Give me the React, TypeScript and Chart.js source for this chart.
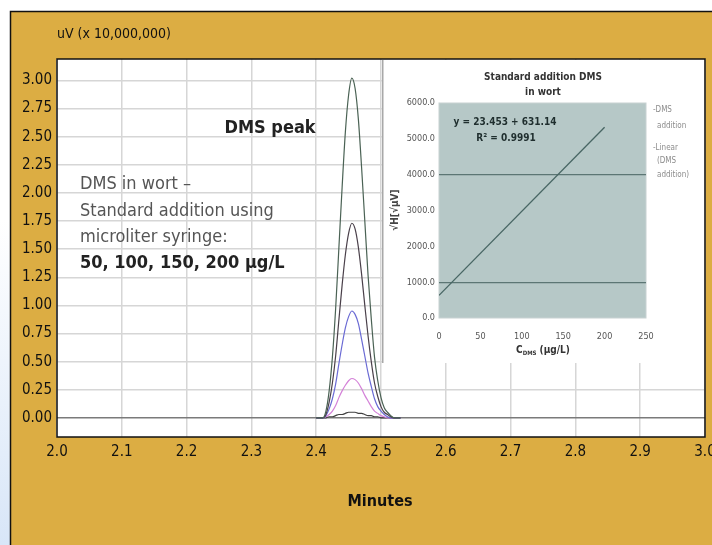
import React, { useEffect, useRef } from "react";
import { Chart, registerables } from "chart.js";

Chart.register(...registerables);

const FONT = '"Liberation Sans Narrow", "DejaVu Sans Condensed", "Arial Narrow", sans-serif';

// ---------- main chromatogram data ----------
const TIMES = [2.40, 2.41, 2.415, 2.42, 2.425, 2.43, 2.435, 2.44, 2.445, 2.45, 2.455, 2.46, 2.465, 2.47, 2.475, 2.48, 2.485, 2.49, 2.495, 2.50, 2.505, 2.51, 2.515, 2.52, 2.53];
const PEAK_200 = [0, 0, 0.06, 0.24, 0.54, 0.97, 1.51, 2.05, 2.54, 2.87, 3.02, 2.93, 2.66, 2.23, 1.75, 1.27, 0.88, 0.54, 0.33, 0.18, 0.09, 0.05, 0.02, 0, 0];
const PEAK_150 = [0, 0, 0.03, 0.14, 0.31, 0.55, 0.87, 1.18, 1.45, 1.64, 1.73, 1.68, 1.52, 1.28, 1.00, 0.73, 0.50, 0.31, 0.19, 0.10, 0.05, 0.03, 0.01, 0, 0];
const PEAK_100 = [0, 0, 0.02, 0.08, 0.17, 0.30, 0.48, 0.65, 0.80, 0.90, 0.95, 0.92, 0.84, 0.70, 0.55, 0.40, 0.28, 0.17, 0.10, 0.06, 0.03, 0.01, 0, 0, 0];
const PEAK_50 = [0, 0, 0.01, 0.03, 0.06, 0.11, 0.18, 0.24, 0.29, 0.33, 0.35, 0.34, 0.31, 0.26, 0.20, 0.15, 0.10, 0.06, 0.04, 0.02, 0.01, 0, 0, 0, 0];
const PEAK_0 = [0, 0, 0, 0.01, 0.01, 0.02, 0.03, 0.03, 0.04, 0.05, 0.05, 0.05, 0.04, 0.04, 0.03, 0.02, 0.02, 0.01, 0.01, 0, 0, 0, 0, 0, 0];
const SERIES = [PEAK_200, PEAK_150, PEAK_100, PEAK_50, PEAK_0];
const SERIES_COLORS = ["#4a6254", "#4a404a", "#6a6ad4", "#d482d8", "#404040"];
const Y_TICKS = [0, 0.25, 0.5, 0.75, 1.0, 1.25, 1.5, 1.75, 2.0, 2.25, 2.5, 2.75, 3.0];
const X_MIN = 2.0, X_MAX = 3.0, X_STEP = 0.1;
const Y_MIN = -0.17, Y_MAX = 3.19;

// ---------- inset calibration data ----------
const FIT_X = [0, 200];
const FIT_Y = [631.1, 5321.7];
const INSET_GRID = [1000, 4000];
const INSET_X_MIN = 0, INSET_X_MAX = 250, INSET_X_STEP = 50;
const INSET_Y_MIN = 0, INSET_Y_MAX = 6000, INSET_Y_STEP = 1000;

const GOLD = "#dcad43";

const mainBg = {
  id: "mainBg",
  beforeDraw(chart: any) {
    const { ctx, width, height, chartArea: a } = chart;
    ctx.save();
    ctx.fillStyle = "#ffffff";
    ctx.fillRect(0, 0, width, height);
    const g = ctx.createLinearGradient(0, 220, 0, height);
    g.addColorStop(0, "#ffffff");
    g.addColorStop(1, "#d8e6f8");
    ctx.fillStyle = g;
    ctx.fillRect(0, 0, 10, height);
    ctx.fillStyle = GOLD;
    ctx.fillRect(10, 11, width, height);
    ctx.strokeStyle = "#111";
    ctx.lineWidth = 1.5;
    ctx.strokeRect(10.5, 11.5, width + 10, height + 10);
    ctx.fillStyle = "#ffffff";
    ctx.fillRect(a.left, a.top, a.right - a.left, a.bottom - a.top);
    ctx.restore();
  },
  afterDraw(chart: any) {
    const { ctx, chartArea: a } = chart;
    ctx.save();
    ctx.strokeStyle = "#111";
    ctx.lineWidth = 1.5;
    ctx.strokeRect(a.left, a.top, a.right - a.left, a.bottom - a.top);
    ctx.textBaseline = "middle";
    ctx.textAlign = "left";
    ctx.fillStyle = "#111";
    ctx.font = `14px ${FONT}`;
    ctx.fillText("uV (x 10,000,000)", 57, 34);
    ctx.textAlign = "center";
    ctx.font = `bold 16px ${FONT}`;
    ctx.fillText("Minutes", 380, 502);
    ctx.font = `bold 18px ${FONT}`;
    ctx.fillStyle = "#222";
    ctx.fillText("DMS peak", 270, 128);
    ctx.textAlign = "left";
    ctx.font = `18px ${FONT}`;
    ctx.fillStyle = "#555";
    ctx.fillText("DMS in wort \u2013", 80, 184);
    ctx.fillText("Standard addition using", 80, 211);
    ctx.fillText("microliter syringe:", 80, 237);
    ctx.font = `bold 18px ${FONT}`;
    ctx.fillStyle = "#222";
    ctx.fillText("50, 100, 150, 200 \u00b5g/L", 80, 263);
    ctx.restore();
  },
};

// inset canvas sits at (382, 60), size 322 x 303
const insetBg = {
  id: "insetBg",
  beforeDraw(chart: any) {
    const { ctx, width, height, chartArea: a } = chart;
    ctx.save();
    ctx.fillStyle = "#ffffff";
    ctx.fillRect(0, 0, width, height);
    ctx.strokeStyle = "#a8a8a8";
    ctx.lineWidth = 1.5;
    ctx.beginPath();
    ctx.moveTo(0.75, 0);
    ctx.lineTo(0.75, height);
    ctx.stroke();
    ctx.fillStyle = "#b6c8c7";
    ctx.fillRect(a.left, a.top, a.right - a.left, a.bottom - a.top);
    ctx.strokeStyle = "#c8d2d2";
    ctx.lineWidth = 1;
    ctx.strokeRect(a.left, a.top, a.right - a.left, a.bottom - a.top);
    ctx.restore();
  },
  afterDraw(chart: any) {
    const { ctx } = chart;
    ctx.save();
    ctx.textBaseline = "middle";
    ctx.textAlign = "center";
    ctx.fillStyle = "#333";
    ctx.font = `bold 10px ${FONT}`;
    ctx.fillText("Standard addition DMS", 161, 17);
    ctx.fillText("in wort", 161, 32);
    ctx.fillStyle = "#1f2e2e";
    ctx.fillText("y = 23.453 + 631.14", 123, 62);
    ctx.fillText("R\u00b2 = 0.9991", 124, 78);
    // legend
    ctx.textAlign = "left";
    ctx.fillStyle = "#8c8c8c";
    ctx.font = `8px ${FONT}`;
    ctx.fillText("-DMS", 271, 50);
    ctx.fillText("addition", 275, 66);
    ctx.fillText("-Linear", 271, 88);
    ctx.fillText("(DMS", 275, 101);
    ctx.fillText("addition)", 275, 115);
    // x title with subscript
    ctx.fillStyle = "#333";
    ctx.font = `bold 10px ${FONT}`;
    const p1 = "C", p2 = "DMS", p3 = " (\u00b5g/L)";
    const w1 = ctx.measureText(p1).width;
    ctx.font = `bold 6px ${FONT}`;
    const w2 = ctx.measureText(p2).width;
    ctx.font = `bold 10px ${FONT}`;
    const w3 = ctx.measureText(p3).width;
    let x = 161 - (w1 + w2 + w3) / 2;
    ctx.fillText(p1, x, 290);
    x += w1;
    ctx.font = `bold 6px ${FONT}`;
    ctx.fillText(p2, x, 293);
    x += w2;
    ctx.font = `bold 10px ${FONT}`;
    ctx.fillText(p3, x, 290);
    // y title
    ctx.translate(13, 150);
    ctx.rotate(-Math.PI / 2);
    ctx.textAlign = "center";
    ctx.fillStyle = "#444";
    ctx.fillText("\u221aH[\u221a\u00b5V]", 0, 0);
    ctx.restore();
  },
};

export default function App() {
  const mainRef = useRef<HTMLCanvasElement>(null);
  const insetRef = useRef<HTMLCanvasElement>(null);

  useEffect(() => {
    const main = new Chart(mainRef.current!, {
      type: "line",
      data: {
        datasets: SERIES.map((s, i) => ({
          data: TIMES.map((t, j) => ({ x: t, y: s[j] })),
          borderColor: SERIES_COLORS[i],
          borderWidth: 1.2,
          pointRadius: 0,
          fill: false,
          tension: 0.4,
          cubicInterpolationMode: "monotone" as const,
        })),
      },
      options: {
        responsive: false,
        animation: false,
        layout: { padding: { top: 59, right: 7, left: 0, bottom: 0 } },
        plugins: { legend: { display: false }, tooltip: { enabled: false } },
        scales: {
          x: {
            type: "linear",
            min: X_MIN,
            max: X_MAX,
            ticks: {
              stepSize: X_STEP,
              callback: (v: any) => Number(v).toFixed(1),
              font: { family: FONT, size: 15 },
              color: "#111",
              padding: 6,
              maxRotation: 0,
              autoSkip: false,
            },
            grid: { color: "#d6d6d6", lineWidth: 1.5, drawTicks: false },
            border: { display: false },
            afterFit: (s: any) => { s.height = 108; s.paddingLeft = 0; s.paddingRight = 0; },
          },
          y: {
            type: "linear",
            min: Y_MIN,
            max: Y_MAX,
            afterBuildTicks: (s: any) => { s.ticks = Y_TICKS.map((value) => ({ value })); },
            ticks: {
              callback: (v: any) => Number(v).toFixed(2),
              font: { family: FONT, size: 15 },
              color: "#111",
              padding: 5,
            },
            grid: {
              color: (c: any) => (c.tick && c.tick.value === 0 ? "#7a7a7a" : "#d6d6d6"),
              lineWidth: 1.5,
              drawTicks: false,
            },
            border: { display: false },
            afterFit: (s: any) => { s.width = 57; s.paddingTop = 0; s.paddingBottom = 0; },
          },
        },
      },
      plugins: [mainBg],
    });

    const inset = new Chart(insetRef.current!, {
      type: "line",
      data: {
        datasets: [
          {
            data: FIT_X.map((x, i) => ({ x, y: FIT_Y[i] })),
            borderColor: "#486664",
            borderWidth: 1.3,
            pointRadius: 0,
            fill: false,
          },
        ],
      },
      options: {
        responsive: false,
        animation: false,
        layout: { padding: { top: 43, right: 58, left: 0, bottom: 0 } },
        plugins: { legend: { display: false }, tooltip: { enabled: false } },
        scales: {
          x: {
            type: "linear",
            min: INSET_X_MIN,
            max: INSET_X_MAX,
            ticks: {
              stepSize: INSET_X_STEP,
              font: { family: FONT, size: 9 },
              color: "#555",
              padding: 5,
              maxRotation: 0,
            },
            grid: { display: false },
            border: { display: false },
            afterFit: (s: any) => { s.height = 45; s.paddingLeft = 0; s.paddingRight = 0; },
          },
          y: {
            type: "linear",
            min: INSET_Y_MIN,
            max: INSET_Y_MAX,
            ticks: {
              stepSize: INSET_Y_STEP,
              callback: (v: any) => Number(v).toFixed(1),
              font: { family: FONT, size: 9 },
              color: "#555",
              padding: 4,
            },
            grid: {
              color: (c: any) => (c.tick && INSET_GRID.includes(c.tick.value) ? "#5c7674" : "rgba(0,0,0,0)"),
              lineWidth: 1.2,
              drawTicks: false,
            },
            border: { display: false },
            afterFit: (s: any) => { s.width = 57; s.paddingTop = 0; s.paddingBottom = 0; },
          },
        },
      },
      plugins: [insetBg],
    });

    return () => {
      main.destroy();
      inset.destroy();
    };
  }, []);

  return (
    <div style={{ position: "fixed", left: 0, top: 0, width: 712, height: 545 }}>
      <canvas ref={mainRef} width={712} height={545} style={{ position: "absolute", left: 0, top: 0, width: 712, height: 545 }} />
      <canvas ref={insetRef} width={322} height={303} style={{ position: "absolute", left: 382, top: 60, width: 322, height: 303 }} />
    </div>
  );
}
